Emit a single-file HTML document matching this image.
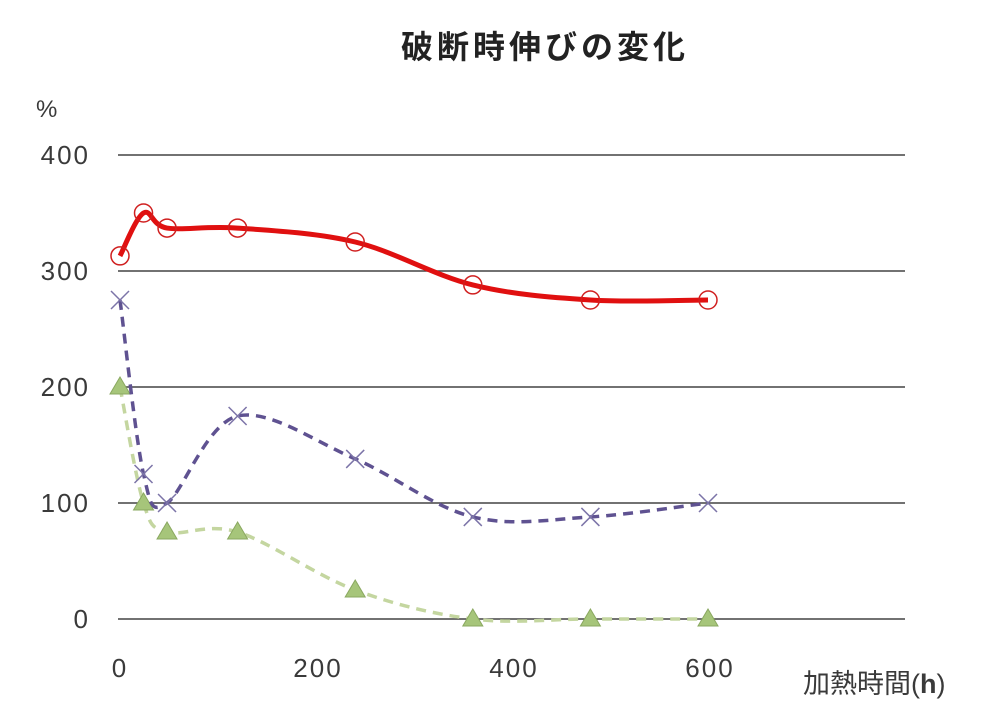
<!DOCTYPE html>
<html><head><meta charset="utf-8"><style>
body{margin:0;background:#fff;}
svg text{font-family:"Liberation Sans","Noto Sans CJK JP",sans-serif;fill:#3a3a3a;}
</style></head><body>
<svg id="s" width="1000" height="714" xmlns="http://www.w3.org/2000/svg">
<text x="545" y="58" font-size="32" font-weight="bold" letter-spacing="4" text-anchor="middle" style="fill:#222">破断時伸びの変化</text>
<text x="36" y="117" font-size="24">%</text>
<g font-size="26" letter-spacing="2" text-anchor="end">
<text x="90" y="164">400</text><text x="90" y="280">300</text><text x="90" y="396">200</text><text x="90" y="512">100</text><text x="90" y="628">0</text>
</g>
<g font-size="26" letter-spacing="2" text-anchor="middle">
<text x="120" y="677">0</text><text x="318" y="677">200</text><text x="514" y="677">400</text><text x="710" y="677">600</text>
</g>
<text x="803" y="693" font-size="27">加熱時間(<tspan font-weight="bold">h</tspan>)</text>
<g stroke="#444" stroke-width="1.5">
<line x1="118" y1="155" x2="905" y2="155"/><line x1="118" y1="271" x2="905" y2="271"/><line x1="118" y1="387" x2="905" y2="387"/><line x1="118" y1="503" x2="905" y2="503"/><line x1="118" y1="619" x2="905" y2="619"/>
</g>
<g id="g"></g>
</svg>
<script>
var X=[0,24,48,120,240,360,480,600];
var R=[313,350,337,337,325,288,275,275],P=[275,125,100,175,138,88,88,100],G=[200,100,75,75,25,0,0,0];
function px(x){return 120+x*0.98;} function py(y){return 619-y*1.16;}
function path(Y){var p=X.map(function(x,i){return [px(x),py(Y[i])];});var d="M"+p[0][0]+","+p[0][1];
for(var i=0;i<p.length-1;i++){var a=p[i-1]||p[i],b=p[i],c=p[i+1],e=p[i+2]||c,t=6;
d+=" C"+(b[0]+(c[0]-a[0])/t)+","+(b[1]+(c[1]-a[1])/t)+" "+(c[0]-(e[0]-b[0])/t)+","+(c[1]-(e[1]-b[1])/t)+" "+c[0]+","+c[1];}return [d,p];}
var h="";
var g=path(G);h+='<path d="'+g[0]+'" fill="none" stroke="#c4d6a0" stroke-width="3.5" stroke-dasharray="10,7"/>';
g[1].forEach(function(q){h+='<polygon points="'+q[0]+','+(q[1]-10)+' '+(q[0]-10)+','+(q[1]+7)+' '+(q[0]+10)+','+(q[1]+7)+'" fill="#a6c57a" stroke="#8aa860"/>';});
var p=path(P);h+='<path d="'+p[0]+'" fill="none" stroke="#5f5291" stroke-width="3.5" stroke-dasharray="10,7"/>';
p[1].forEach(function(q){h+='<path d="M'+(q[0]-9)+','+(q[1]-9)+' l18,18 M'+(q[0]+9)+','+(q[1]-9)+' l-18,18" stroke="#7c74a8" stroke-width="1.5"/>';});
var r=path(R);h+='<path d="'+r[0]+'" fill="none" stroke="#e01010" stroke-width="5"/>';
r[1].forEach(function(q){h+='<circle cx="'+q[0]+'" cy="'+q[1]+'" r="9" fill="none" stroke="#d02020" stroke-width="1.5"/>';});
document.getElementById("g").innerHTML=h;
</script>
</body></html>
